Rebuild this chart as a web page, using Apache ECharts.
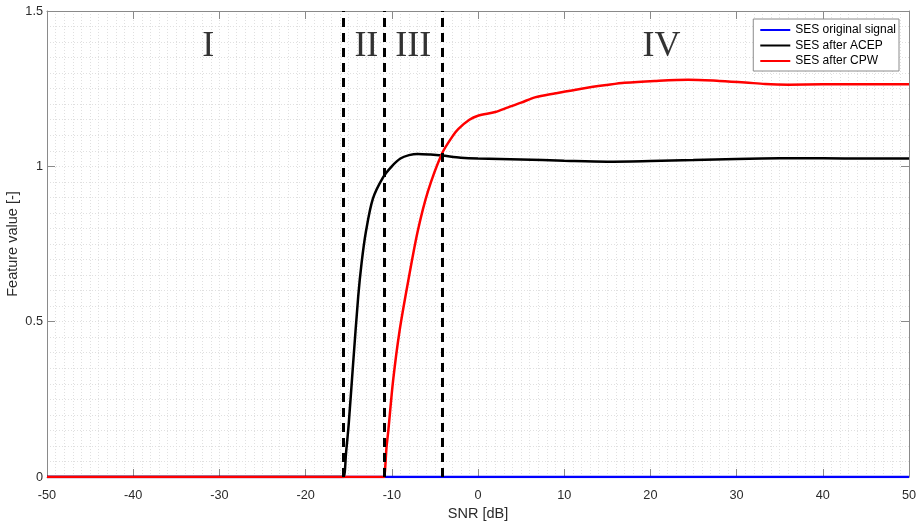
<!DOCTYPE html>
<html>
<head>
<meta charset="utf-8">
<script src="https://cdn.jsdelivr.net/npm/echarts@6/dist/echarts.min.js"></script>
<style>html,body{margin:0;padding:0;background:#fff}#c{width:918px;height:524px}</style>
</head>
<body>
<div id="c"></div>
<script>
// ---- data ----
const seriesNames = ['SES original signal', 'SES after ACEP', 'SES after CPW'];
const snrOriginal = [-50, 50];
const valOriginal = [0, 0];
const snrACEP = [-50, -16, -15.6, -15.3, -15.0, -14.5, -13.9, -13.5, -13.0, -12.2, -11.0, -10.0, -9.0, -8.0, -7.0, -5.5, -4.2, -2, 0, 5, 10, 15, 20, 25, 30, 35, 40, 45, 50];
const valACEP = [0, 0, 0, 0.08, 0.17, 0.36, 0.58, 0.69, 0.79, 0.895, 0.965, 1.0, 1.025, 1.036, 1.04, 1.038, 1.035, 1.028, 1.025, 1.022, 1.018, 1.015, 1.017, 1.02, 1.024, 1.026, 1.026, 1.025, 1.025];
const snrCPW = [-50, -11, -10.9, -10.6, -10.4, -9.85, -9.1, -8.1, -7.0, -5.8, -4.2, -3.0, -2.3, -1.0, 0, 2, 3.5, 5, 6.6, 9, 12, 15, 17, 20.5, 24.4, 28, 31, 33.3, 36, 40, 50];
const valCPW = [0, 0, 0, 0.1, 0.15, 0.31, 0.47, 0.63, 0.79, 0.92, 1.04, 1.095, 1.12, 1.15, 1.163, 1.175, 1.19, 1.205, 1.222, 1.235, 1.25, 1.262, 1.269, 1.275, 1.279, 1.275, 1.27, 1.265, 1.263, 1.264, 1.264];
const boundaries = [-15.6, -10.9, -4.2];
const regionNames = ['I', 'II', 'III', 'IV'];
const regionX = [-31.3, -12.95, -7.5, 21.3];
const regionY = [1.385, 1.385, 1.385, 1.385];
const xTicks = {min: -50, max: 50, step: 10};
const yTicks = {min: 0, max: 1.5, step: 0.5};

const zip = (a, b) => a.map((v, i) => [v, b[i]]);

const axisGray = '#8a8a8a';
const textGray = '#2b2b2b';
const gridDot = {color: '#e0e0e0', width: 1, type: [1, 2]};
const sans = 'Liberation Sans, Arial, sans-serif';

function mkX(pos, showLabels) {
  return {
    type: 'value', position: pos, min: xTicks.min, max: xTicks.max, interval: xTicks.step,
    axisLine: {show: true, onZero: false, lineStyle: {color: axisGray, width: 1}},
    axisTick: {show: true, inside: true, length: 8, lineStyle: {color: axisGray}},
    axisLabel: {show: showLabels, color: textGray, fontFamily: sans, fontSize: 12.7, margin: 12},
    splitLine: {show: showLabels, lineStyle: gridDot},
    minorTick: {show: false, splitNumber: 10},
    minorSplitLine: {show: showLabels, lineStyle: gridDot},
    name: showLabels ? 'SNR [dB]' : '', nameLocation: 'middle', nameGap: 29, nameMoveOverlap: false,
    nameTextStyle: {color: textGray, fontFamily: sans, fontSize: 14.5}
  };
}
function mkY(pos, showLabels) {
  return {
    type: 'value', position: pos, min: yTicks.min, max: yTicks.max, interval: yTicks.step,
    axisLine: {show: true, onZero: false, lineStyle: {color: axisGray, width: 1}},
    axisTick: {show: true, inside: true, length: 8, lineStyle: {color: axisGray}},
    axisLabel: {show: showLabels, color: textGray, fontFamily: sans, fontSize: 12.7, margin: 4,
      formatter: v => String(v)},
    splitLine: {show: showLabels, lineStyle: gridDot},
    minorTick: {show: false, splitNumber: 10},
    minorSplitLine: {show: showLabels, lineStyle: gridDot},
    name: showLabels ? 'Feature value [-]' : '', nameLocation: 'middle', nameGap: 27, nameMoveOverlap: false,
    nameTextStyle: {color: textGray, fontFamily: sans, fontSize: 14.5}
  };
}

const chart = echarts.init(document.getElementById('c'), null, {renderer: 'canvas'});
chart.setOption({
  animation: false,
  backgroundColor: '#ffffff',
  grid: {left: 47, right: 9, top: 11, bottom: 47, containLabel: false, outerBoundsMode: 'none'},
  xAxis: [mkX('bottom', true), mkX('top', false)],
  yAxis: [mkY('left', true), mkY('right', false)],
  legend: {
    right: 19, top: 19, orient: 'vertical', align: 'left',
    backgroundColor: '#ffffff', borderColor: '#8c8c8c', borderWidth: 1,
    padding: [5, 3, 4, 6], itemGap: 3.5, itemWidth: 30, itemHeight: 12,
    itemStyle: {color: 'transparent', borderColor: 'transparent', borderWidth: 0, opacity: 0},
    textStyle: {color: '#000', fontFamily: sans, fontSize: 12},
    data: seriesNames
  },
  series: [
    {
      name: seriesNames[0], type: 'line', data: zip(snrOriginal, valOriginal),
      showSymbol: false, symbol: 'none', lineStyle: {color: '#0000ff', width: 2.5}, itemStyle: {color: '#0000ff'},
      z: 2,
      markLine: {
        silent: true, symbol: 'none', label: {show: false},
        lineStyle: {color: '#000', width: 3, type: [9, 6]},
        data: boundaries.map(b => ({xAxis: b})),
        z: 10
      }
    },
    {
      name: seriesNames[1], type: 'line', data: zip(snrACEP, valACEP), smooth: 0.3,
      showSymbol: false, symbol: 'none', lineStyle: {color: '#000000', width: 2.5}, itemStyle: {color: '#000000'},
      z: 3
    },
    {
      name: seriesNames[2], type: 'line', data: zip(snrCPW, valCPW), smooth: 0.3,
      showSymbol: false, symbol: 'none', lineStyle: {color: '#ff0000', width: 2.5}, itemStyle: {color: '#ff0000'},
      z: 4
    },
    {
      name: 'regions', type: 'scatter', symbolSize: 0, silent: true,
      data: regionNames.map((n, i) => ({name: n, value: [regionX[i], regionY[i]]})),
      label: {show: true, position: 'inside', formatter: p => p.name,
        fontFamily: 'Liberation Serif, Times New Roman, serif', fontSize: 36, color: '#000'},
      z: 5
    }
  ]
});
</script>
</body>
</html>
